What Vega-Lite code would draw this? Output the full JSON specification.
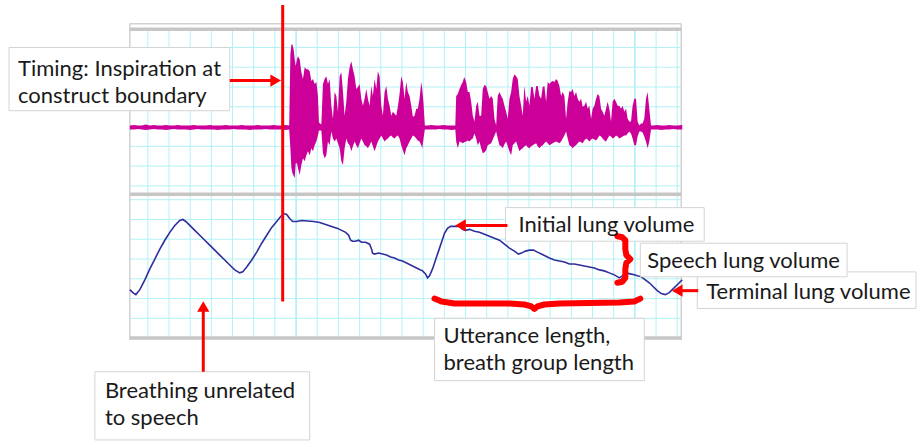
{
  "$schema": "https://vega.github.io/schema/vega-lite/v6.json",
  "width": 917,
  "height": 441,
  "autosize": {"type": "fit", "contains": "padding"},
  "padding": 0,
  "background": "white",
  "config": {"view": {"stroke": null}},
  "datasets": {
    "gridV": [
      {"gx": 148, "kind": "minor"}, {"gx": 169.2, "kind": "minor"}, {"gx": 190.4, "kind": "minor"}, {"gx": 211.6, "kind": "minor"},
      {"gx": 232.8, "kind": "minor"}, {"gx": 254, "kind": "minor"}, {"gx": 275.2, "kind": "minor"}, {"gx": 296.4, "kind": "major"},
      {"gx": 317.6, "kind": "minor"}, {"gx": 338.8, "kind": "minor"}, {"gx": 360, "kind": "minor"}, {"gx": 381.2, "kind": "minor"},
      {"gx": 402.4, "kind": "minor"}, {"gx": 423.6, "kind": "minor"}, {"gx": 444.8, "kind": "minor"}, {"gx": 466, "kind": "minor"},
      {"gx": 487.2, "kind": "minor"}, {"gx": 508.4, "kind": "minor"}, {"gx": 529.6, "kind": "minor"}, {"gx": 550.8, "kind": "minor"},
      {"gx": 572, "kind": "minor"}, {"gx": 593.2, "kind": "minor"}, {"gx": 614.4, "kind": "minor"}, {"gx": 635.6, "kind": "major"},
      {"gx": 656.8, "kind": "minor"}, {"gx": 678, "kind": "minor"}
    ],
    "gridH": [
      {"gy": 48}, {"gy": 68}, {"gy": 88}, {"gy": 108}, {"gy": 128}, {"gy": 148}, {"gy": 168}, {"gy": 188},
      {"gy": 202}, {"gy": 222}, {"gy": 242}, {"gy": 262}, {"gy": 282}, {"gy": 302}, {"gy": 322}
    ],
    "frameEdges": [
      {"x1": 130, "x2": 682, "y1": 24, "y2": 24},
      {"x1": 130, "x2": 130, "y1": 24, "y2": 344},
      {"x1": 682, "x2": 682, "y1": 24, "y2": 344}
    ],
    "frameBands": [{"by": 29.5}, {"by": 196.5}, {"by": 342}],
    "wave": [
      {"x":130,"t":127,"b":131},{"x":134,"t":126.5,"b":131},{"x":138,"t":127,"b":130.5},{"x":142,"t":127,"b":131},
      {"x":146,"t":126,"b":131.5},{"x":150,"t":127,"b":131},{"x":154,"t":126.5,"b":130.5},{"x":158,"t":127,"b":131},
      {"x":162,"t":127,"b":131},{"x":166,"t":126.5,"b":131.5},{"x":170,"t":127,"b":131},{"x":174,"t":127,"b":130.5},
      {"x":178,"t":126.5,"b":131},{"x":182,"t":127,"b":131},{"x":186,"t":127,"b":131},{"x":190,"t":127,"b":131.5},
      {"x":194,"t":126.5,"b":131},{"x":198,"t":127,"b":130.5},{"x":202,"t":127,"b":131},{"x":206,"t":127,"b":131},
      {"x":210,"t":126.5,"b":131},{"x":214,"t":127,"b":131},{"x":218,"t":127,"b":131.5},{"x":222,"t":127,"b":131},
      {"x":226,"t":126.5,"b":131},{"x":230,"t":127,"b":131},{"x":234,"t":127,"b":130.5},{"x":238,"t":127,"b":131},
      {"x":242,"t":126.5,"b":131},{"x":246,"t":127,"b":131},{"x":250,"t":127,"b":131.5},{"x":254,"t":127,"b":131},
      {"x":258,"t":126.5,"b":131},{"x":262,"t":127,"b":131},{"x":266,"t":127,"b":130.5},{"x":270,"t":127,"b":131},
      {"x":274,"t":126.5,"b":131},{"x":278,"t":127,"b":131},{"x":282,"t":127,"b":131},{"x":286,"t":126.5,"b":131.5},
      {"x":289.5,"t":127,"b":131},
      {"x":290.7,"t":55,"b":150},{"x":291.7,"t":45,"b":170},{"x":292.7,"t":45,"b":175},{"x":294,"t":50,"b":178},
      {"x":295,"t":60,"b":180},{"x":296,"t":67,"b":165},{"x":297.3,"t":60,"b":165},{"x":298.3,"t":57,"b":170},
      {"x":300,"t":60,"b":177},{"x":301.7,"t":73,"b":167},{"x":303.3,"t":80,"b":160},{"x":305,"t":68,"b":163},
      {"x":306.7,"t":70,"b":157},{"x":308.3,"t":70,"b":153},{"x":310,"t":72,"b":157},{"x":311.7,"t":82,"b":150},
      {"x":313.3,"t":80,"b":153},{"x":315,"t":85,"b":147},{"x":316.7,"t":83,"b":143},{"x":318.3,"t":97,"b":137},
      {"x":319.3,"t":124,"b":132},{"x":321.7,"t":126,"b":132},{"x":323.3,"t":85,"b":155},{"x":325,"t":80,"b":160},
      {"x":326.7,"t":77,"b":157},{"x":328.3,"t":85,"b":143},{"x":330,"t":80,"b":147},{"x":331.7,"t":107,"b":133},
      {"x":333.3,"t":120,"b":140},{"x":335,"t":93,"b":143},{"x":336.7,"t":97,"b":140},{"x":338.3,"t":113,"b":145},
      {"x":340,"t":77,"b":150},{"x":341.7,"t":73,"b":163},{"x":343.3,"t":92,"b":167},{"x":345,"t":117,"b":150},
      {"x":346.7,"t":103,"b":140},{"x":348.3,"t":80,"b":145},{"x":350,"t":68,"b":147},{"x":351.7,"t":62,"b":153},
      {"x":353.3,"t":70,"b":148},{"x":355,"t":77,"b":143},{"x":356.7,"t":90,"b":147},{"x":358.3,"t":88,"b":150},
      {"x":360,"t":85,"b":145},{"x":361.7,"t":100,"b":140},{"x":363.3,"t":107,"b":143},{"x":365,"t":100,"b":147},
      {"x":366.7,"t":90,"b":148},{"x":368.3,"t":100,"b":150},{"x":370,"t":107,"b":147},{"x":371.7,"t":87,"b":143},
      {"x":373.3,"t":97,"b":148},{"x":375,"t":80,"b":153},{"x":376.7,"t":90,"b":148},{"x":378.3,"t":72,"b":143},
      {"x":380,"t":77,"b":140},{"x":381.7,"t":107,"b":137},{"x":383.3,"t":117,"b":140},{"x":385,"t":93,"b":143},
      {"x":386.7,"t":87,"b":141},{"x":388.3,"t":100,"b":140},{"x":390,"t":107,"b":138},{"x":391.7,"t":117,"b":137},
      {"x":393.3,"t":113,"b":139},{"x":395,"t":115,"b":140},{"x":396.7,"t":117,"b":138},{"x":398.3,"t":108,"b":137},
      {"x":400,"t":95,"b":140},{"x":401.7,"t":77,"b":147},{"x":403.3,"t":83,"b":152},{"x":405,"t":100,"b":157},
      {"x":406.7,"t":83,"b":150},{"x":408.3,"t":93,"b":147},{"x":410,"t":97,"b":143},{"x":411.7,"t":107,"b":140},
      {"x":413.3,"t":118,"b":137},{"x":415,"t":117,"b":138},{"x":416.7,"t":110,"b":140},{"x":418.3,"t":110,"b":142},
      {"x":420,"t":100,"b":143},{"x":421.7,"t":83,"b":147},{"x":422.7,"t":90,"b":150},{"x":424,"t":105,"b":140},
      {"x":425.3,"t":127,"b":131},
      {"x":428,"t":127,"b":131},{"x":432,"t":126.5,"b":131},{"x":436,"t":127,"b":131},{"x":440,"t":127,"b":130.5},
      {"x":444,"t":126.5,"b":131},{"x":448,"t":127,"b":131},{"x":452,"t":127,"b":131.5},{"x":455.8,"t":127,"b":131},
      {"x":456.7,"t":97,"b":143},{"x":458.3,"t":95,"b":150},{"x":460,"t":90,"b":143},{"x":461.7,"t":86,"b":144},
      {"x":463.3,"t":83,"b":145},{"x":464.7,"t":78,"b":144},{"x":466.7,"t":83,"b":143},{"x":468.3,"t":93,"b":142},
      {"x":470,"t":93,"b":143},{"x":471.7,"t":103,"b":141},{"x":473.3,"t":117,"b":140},{"x":475,"t":123,"b":135},
      {"x":476.7,"t":107,"b":140},{"x":478.3,"t":103,"b":147},{"x":480,"t":117,"b":143},{"x":481.7,"t":117,"b":150},
      {"x":483.3,"t":90,"b":155},{"x":485,"t":86,"b":154},{"x":486.7,"t":87,"b":152},{"x":488.3,"t":93,"b":147},
      {"x":490,"t":100,"b":146},{"x":491.7,"t":97,"b":145},{"x":493.3,"t":100,"b":141},{"x":495,"t":120,"b":137},
      {"x":496.7,"t":127,"b":133},{"x":498.3,"t":97,"b":140},{"x":500,"t":93,"b":147},{"x":501.7,"t":97,"b":148},
      {"x":503.3,"t":100,"b":150},{"x":505,"t":107,"b":146},{"x":506.7,"t":113,"b":143},{"x":508.3,"t":120,"b":148},
      {"x":510,"t":100,"b":153},{"x":511.7,"t":93,"b":157},{"x":513.3,"t":80,"b":147},{"x":515,"t":75,"b":145},
      {"x":516.7,"t":77,"b":143},{"x":518.3,"t":80,"b":148},{"x":520,"t":97,"b":153},{"x":521.7,"t":107,"b":151},
      {"x":523.3,"t":117,"b":150},{"x":525,"t":87,"b":148},{"x":526.7,"t":103,"b":147},{"x":528.3,"t":97,"b":149},
      {"x":530,"t":107,"b":150},{"x":531.7,"t":88,"b":148},{"x":533.3,"t":88,"b":147},{"x":535,"t":100,"b":146},
      {"x":536.7,"t":87,"b":145},{"x":538.3,"t":87,"b":148},{"x":540,"t":97,"b":150},{"x":541.7,"t":100,"b":148},
      {"x":543.3,"t":88,"b":147},{"x":545,"t":87,"b":145},{"x":546.7,"t":103,"b":143},{"x":548.3,"t":83,"b":145},
      {"x":550,"t":85,"b":147},{"x":551.7,"t":83,"b":146},{"x":553.3,"t":82,"b":145},{"x":555,"t":83,"b":144},
      {"x":556.7,"t":80,"b":143},{"x":558.3,"t":82,"b":144},{"x":560,"t":87,"b":145},{"x":561.7,"t":97,"b":143},
      {"x":563.3,"t":93,"b":140},{"x":565,"t":97,"b":137},{"x":566.7,"t":120,"b":133},{"x":568.3,"t":103,"b":140},
      {"x":570,"t":92,"b":147},{"x":571.7,"t":93,"b":148},{"x":573.3,"t":90,"b":150},{"x":575,"t":97,"b":148},
      {"x":576.7,"t":93,"b":147},{"x":578.3,"t":100,"b":145},{"x":580,"t":103,"b":143},{"x":581.7,"t":100,"b":144},
      {"x":583.3,"t":108,"b":145},{"x":585,"t":107,"b":142},{"x":586.7,"t":103,"b":140},{"x":588.3,"t":110,"b":141},
      {"x":590,"t":107,"b":143},{"x":591.7,"t":120,"b":141},{"x":593.3,"t":110,"b":140},{"x":595,"t":107,"b":141},
      {"x":596.7,"t":100,"b":142},{"x":598.3,"t":95,"b":140},{"x":600,"t":97,"b":137},{"x":601.7,"t":110,"b":138},
      {"x":603.3,"t":113,"b":140},{"x":605,"t":117,"b":142},{"x":606.7,"t":110,"b":143},{"x":608.3,"t":103,"b":140},
      {"x":610,"t":110,"b":137},{"x":611.7,"t":123,"b":138},{"x":613.3,"t":103,"b":140},{"x":615,"t":100,"b":139},
      {"x":616.7,"t":103,"b":137},{"x":618.3,"t":107,"b":138},{"x":620,"t":107,"b":140},{"x":621.7,"t":110,"b":139},
      {"x":623.3,"t":107,"b":138},{"x":625,"t":113,"b":137},{"x":626.7,"t":110,"b":137},{"x":628.3,"t":120,"b":135},
      {"x":630,"t":123,"b":133},{"x":631.7,"t":123,"b":135},{"x":633.3,"t":107,"b":140},{"x":635,"t":100,"b":147},
      {"x":636.7,"t":100,"b":147},{"x":638.3,"t":123,"b":138},{"x":640,"t":127,"b":133},{"x":641.7,"t":125,"b":133},
      {"x":643.3,"t":125,"b":134},{"x":645,"t":120,"b":138},{"x":646.7,"t":100,"b":143},{"x":648.3,"t":93,"b":150},
      {"x":650,"t":110,"b":143},{"x":651.7,"t":127,"b":131},
      {"x":654,"t":127,"b":131},{"x":658,"t":126.5,"b":131},{"x":662,"t":127,"b":131.5},{"x":666,"t":127,"b":131},
      {"x":670,"t":126.5,"b":131},{"x":674,"t":127,"b":130.5},{"x":678,"t":127,"b":131},{"x":683,"t":126.5,"b":131}
    ],
    "breath": [
      {"x":130,"y":293},{"x":133,"y":296},{"x":136,"y":298},{"x":140,"y":293},{"x":145,"y":283},{"x":150,"y":272},
      {"x":155,"y":262},{"x":160,"y":252},{"x":165,"y":243},{"x":170,"y":235},{"x":175,"y":228},{"x":180,"y":223},
      {"x":183,"y":222},{"x":186,"y":224},{"x":190,"y":228},{"x":195,"y":233},{"x":200,"y":238},{"x":205,"y":243},
      {"x":210,"y":248},{"x":215,"y":253},{"x":220,"y":258},{"x":225,"y":263},{"x":230,"y":268},{"x":235,"y":273},
      {"x":240,"y":276},{"x":243,"y":275},{"x":247,"y":270},{"x":252,"y":263},{"x":257,"y":255},{"x":262,"y":246},
      {"x":267,"y":238},{"x":272,"y":230},{"x":277,"y":224},{"x":281,"y":219},{"x":284,"y":216},{"x":287,"y":217},
      {"x":290,"y":221},{"x":293,"y":224},{"x":297,"y":224},{"x":302,"y":223},{"x":308,"y":223.5},{"x":314,"y":224},
      {"x":320,"y":225},{"x":326,"y":227},{"x":332,"y":229},{"x":338,"y":231},{"x":342,"y":233},{"x":346,"y":235},
      {"x":349,"y":238},{"x":351,"y":243},{"x":353,"y":244},{"x":356,"y":244},{"x":359,"y":243},{"x":362,"y":245},
      {"x":366,"y":245},{"x":370,"y":247},{"x":372,"y":252},{"x":373,"y":256},{"x":375,"y":257},{"x":379,"y":256},
      {"x":383,"y":257},{"x":387,"y":258},{"x":391,"y":260},{"x":395,"y":261},{"x":399,"y":263},{"x":403,"y":264},
      {"x":407,"y":266},{"x":411,"y":268},{"x":415,"y":270},{"x":419,"y":272},{"x":423,"y":274},{"x":426,"y":277},
      {"x":428,"y":281},{"x":430,"y":279},{"x":433,"y":272},{"x":436,"y":263},{"x":439,"y":254},{"x":442,"y":245},
      {"x":445,"y":236},{"x":448,"y":231},{"x":451,"y":229},{"x":456,"y":229},{"x":460,"y":229},{"x":463,"y":232},
      {"x":466,"y":233},{"x":470,"y":232},{"x":475,"y":234},{"x":480,"y":235},{"x":485,"y":237},{"x":490,"y":239},
      {"x":495,"y":241},{"x":500,"y":243},{"x":505,"y":247},{"x":510,"y":251},{"x":515,"y":254},{"x":519,"y":257},
      {"x":522,"y":256},{"x":526,"y":254},{"x":530,"y":253},{"x":534,"y":253},{"x":538,"y":255},{"x":542,"y":257},
      {"x":546,"y":259},{"x":550,"y":261},{"x":555,"y":263},{"x":560,"y":264},{"x":565,"y":265},{"x":570,"y":267},
      {"x":575,"y":267},{"x":580,"y":268},{"x":585,"y":269},{"x":590,"y":270},{"x":595,"y":271},{"x":600,"y":273},
      {"x":605,"y":274},{"x":610,"y":276},{"x":615,"y":278},{"x":620,"y":281},{"x":623,"y":279},{"x":627,"y":276},
      {"x":631,"y":277},{"x":635,"y":278},{"x":638,"y":279},{"x":642,"y":280},{"x":646,"y":283},{"x":650,"y":286},
      {"x":654,"y":290},{"x":658,"y":294},{"x":662,"y":297},{"x":666,"y":298},{"x":670,"y":296},{"x":674,"y":292},
      {"x":678,"y":288},{"x":683,"y":283}
    ],
    "boxes": [
      {"name": "terminal", "x1": 698, "x2": 917, "y1": 275, "y2": 312},
      {"name": "speech", "x1": 641, "x2": 848, "y1": 246, "y2": 280},
      {"name": "initial", "x1": 506, "x2": 705, "y1": 210, "y2": 244},
      {"name": "timing", "x1": 9, "x2": 230, "y1": 48, "y2": 112},
      {"name": "utterance", "x1": 435, "x2": 645, "y1": 322, "y2": 385},
      {"name": "breathing", "x1": 95, "x2": 310, "y1": 376, "y2": 445}
    ],
    "segments": [
      {"x1": 283, "x2": 283, "y1": 5, "y2": 305},
      {"x1": 230, "x2": 272, "y1": 81.5, "y2": 81.5},
      {"x1": 466, "x2": 508, "y1": 228, "y2": 228},
      {"x1": 682, "x2": 699, "y1": 294, "y2": 294},
      {"x1": 203.5, "x2": 203.5, "y1": 314, "y2": 376}
    ],
    "heads": [
      {"x": 276, "y": 81.5, "dir": "right"},
      {"x": 461, "y": 228, "dir": "left"},
      {"x": 678, "y": 294, "dir": "left"},
      {"x": 203.5, "y": 310, "dir": "up"}
    ],
    "braces": [
      {"id": "v", "i": 0, "x": 618, "y": 239}, {"id": "v", "i": 1, "x": 623, "y": 240}, {"id": "v", "i": 2, "x": 626, "y": 243},
      {"id": "v", "i": 3, "x": 626, "y": 252}, {"id": "v", "i": 4, "x": 627, "y": 258}, {"id": "v", "i": 5, "x": 631, "y": 262},
      {"id": "v", "i": 6, "x": 627, "y": 266}, {"id": "v", "i": 7, "x": 626, "y": 272}, {"id": "v", "i": 8, "x": 626, "y": 281},
      {"id": "v", "i": 9, "x": 623, "y": 285}, {"id": "v", "i": 10, "x": 618, "y": 286},
      {"id": "h", "i": 0, "x": 435, "y": 302}, {"id": "h", "i": 1, "x": 442, "y": 305}, {"id": "h", "i": 2, "x": 455, "y": 307},
      {"id": "h", "i": 3, "x": 510, "y": 307}, {"id": "h", "i": 4, "x": 525, "y": 308}, {"id": "h", "i": 5, "x": 532, "y": 310},
      {"id": "h", "i": 6, "x": 535, "y": 312.5}, {"id": "h", "i": 7, "x": 538, "y": 310}, {"id": "h", "i": 8, "x": 545, "y": 308},
      {"id": "h", "i": 9, "x": 560, "y": 307}, {"id": "h", "i": 10, "x": 620, "y": 306}, {"id": "h", "i": 11, "x": 635, "y": 305},
      {"id": "h", "i": 12, "x": 641, "y": 302}
    ],
    "labels": [
      {"tx": 18, "ty": 70, "label": "Timing: Inspiration at"},
      {"tx": 18, "ty": 97, "label": "construct boundary"},
      {"tx": 519, "ty": 228, "label": "Initial lung volume"},
      {"tx": 648, "ty": 264, "label": "Speech lung volume"},
      {"tx": 707, "ty": 295, "label": "Terminal lung volume"},
      {"tx": 444, "ty": 340, "label": "Utterance length,"},
      {"tx": 444, "ty": 367, "label": "breath group length"},
      {"tx": 105, "ty": 395, "label": "Breathing unrelated"},
      {"tx": 105, "ty": 423, "label": "to speech"}
    ]
  },
  "layer": [
    {
      "data": {"name": "gridV"},
      "mark": {"type": "rule", "strokeWidth": 1},
      "encoding": {
        "x": {"field": "gx", "type": "quantitative", "scale": {"domain": [0, 917], "nice": false, "zero": false}, "axis": null},
        "y": {"datum": 31, "type": "quantitative", "scale": {"domain": [0, 441], "reverse": true, "nice": false, "zero": false}, "axis": null},
        "y2": {"datum": 341},
        "color": {"field": "kind", "type": "nominal", "scale": {"domain": ["minor", "major"], "range": ["#b2f2f6", "#80e6ee"]}, "legend": null}
      }
    },
    {
      "data": {"name": "gridH"},
      "mark": {"type": "rule", "strokeWidth": 1, "color": "#b2f2f6"},
      "encoding": {
        "y": {"field": "gy", "type": "quantitative", "scale": {"domain": [0, 441], "reverse": true, "nice": false, "zero": false}, "axis": null},
        "x": {"datum": 130, "type": "quantitative", "scale": {"domain": [0, 917], "nice": false, "zero": false}, "axis": null},
        "x2": {"datum": 682}
      }
    },
    {
      "data": {"name": "frameEdges"},
      "mark": {"type": "rule", "strokeWidth": 1.5, "color": "#d2d2d2"},
      "encoding": {
        "x": {"field": "x1", "type": "quantitative", "scale": {"domain": [0, 917], "nice": false, "zero": false}, "axis": null},
        "x2": {"field": "x2"},
        "y": {"field": "y1", "type": "quantitative", "scale": {"domain": [0, 441], "reverse": true, "nice": false, "zero": false}, "axis": null},
        "y2": {"field": "y2"}
      }
    },
    {
      "data": {"name": "frameBands"},
      "mark": {"type": "rule", "strokeWidth": 3.5, "color": "#c6c6c6"},
      "encoding": {
        "y": {"field": "by", "type": "quantitative", "scale": {"domain": [0, 441], "reverse": true, "nice": false, "zero": false}, "axis": null},
        "x": {"datum": 130, "type": "quantitative", "scale": {"domain": [0, 917], "nice": false, "zero": false}, "axis": null},
        "x2": {"datum": 682}
      }
    },
    {
      "data": {"name": "wave"},
      "mark": {"type": "area", "color": "#CC0099", "opacity": 1},
      "encoding": {
        "x": {"field": "x", "type": "quantitative", "scale": {"domain": [0, 917], "nice": false, "zero": false}, "axis": null},
        "y": {"field": "t", "type": "quantitative", "scale": {"domain": [0, 441], "reverse": true, "nice": false, "zero": false}, "axis": null},
        "y2": {"field": "b"}
      }
    },
    {
      "data": {"name": "breath"},
      "mark": {"type": "line", "color": "#2E2E9C", "strokeWidth": 1.6},
      "encoding": {
        "x": {"field": "x", "type": "quantitative", "scale": {"domain": [0, 917], "nice": false, "zero": false}, "axis": null},
        "y": {"field": "y", "type": "quantitative", "scale": {"domain": [0, 441], "reverse": true, "nice": false, "zero": false}, "axis": null}
      }
    },
    {
      "data": {"name": "boxes"},
      "mark": {"type": "rect", "fill": "white", "stroke": "#d4d4d4", "strokeWidth": 1},
      "encoding": {
        "x": {"field": "x1", "type": "quantitative", "scale": {"domain": [0, 917], "nice": false, "zero": false}, "axis": null},
        "x2": {"field": "x2"},
        "y": {"field": "y1", "type": "quantitative", "scale": {"domain": [0, 441], "reverse": true, "nice": false, "zero": false}, "axis": null},
        "y2": {"field": "y2"}
      }
    },
    {
      "data": {"name": "segments"},
      "mark": {"type": "rule", "strokeWidth": 3, "color": "#FF0000"},
      "encoding": {
        "x": {"field": "x1", "type": "quantitative", "scale": {"domain": [0, 917], "nice": false, "zero": false}, "axis": null},
        "x2": {"field": "x2"},
        "y": {"field": "y1", "type": "quantitative", "scale": {"domain": [0, 441], "reverse": true, "nice": false, "zero": false}, "axis": null},
        "y2": {"field": "y2"}
      }
    },
    {
      "data": {"name": "heads"},
      "mark": {"type": "point", "filled": true, "size": 150, "color": "#FF0000", "opacity": 1, "strokeWidth": 0},
      "encoding": {
        "x": {"field": "x", "type": "quantitative", "scale": {"domain": [0, 917], "nice": false, "zero": false}, "axis": null},
        "y": {"field": "y", "type": "quantitative", "scale": {"domain": [0, 441], "reverse": true, "nice": false, "zero": false}, "axis": null},
        "shape": {"field": "dir", "type": "nominal", "scale": {"domain": ["right", "left", "up"], "range": ["triangle-right", "triangle-left", "triangle-up"]}, "legend": null}
      }
    },
    {
      "data": {"name": "braces"},
      "mark": {"type": "line", "color": "#FF0000", "strokeWidth": 6, "strokeCap": "round", "strokeJoin": "round"},
      "encoding": {
        "x": {"field": "x", "type": "quantitative", "scale": {"domain": [0, 917], "nice": false, "zero": false}, "axis": null},
        "y": {"field": "y", "type": "quantitative", "scale": {"domain": [0, 441], "reverse": true, "nice": false, "zero": false}, "axis": null},
        "detail": {"field": "id", "type": "nominal"},
        "order": {"field": "i", "type": "quantitative"}
      }
    },
    {
      "data": {"name": "labels"},
      "mark": {"type": "text", "align": "left", "baseline": "middle", "font": "Lato", "fontSize": 22, "color": "#1a1a1a"},
      "encoding": {
        "x": {"field": "tx", "type": "quantitative", "scale": {"domain": [0, 917], "nice": false, "zero": false}, "axis": null},
        "y": {"field": "ty", "type": "quantitative", "scale": {"domain": [0, 441], "reverse": true, "nice": false, "zero": false}, "axis": null},
        "text": {"field": "label", "type": "nominal"}
      }
    }
  ]
}
